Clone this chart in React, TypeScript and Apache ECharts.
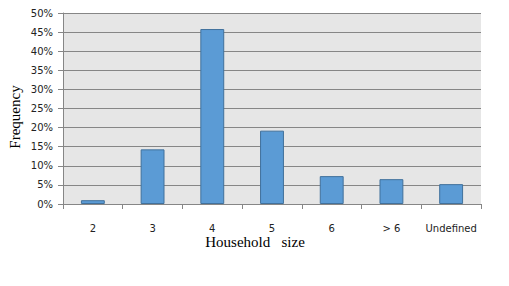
import React, { useEffect, useRef } from "react";
import * as echarts from "echarts";

const categories = ["2", "3", "4", "5", "6", "> 6", "Undefined"];
const frequency = [1.0, 14.3, 45.8, 19.2, 7.3, 6.5, 5.2];
const yTicks = { min: 0, max: 50, interval: 5 };
const xTitle = "Household   size";
const yTitle = "Frequency";

export default function App() {
  const ref = useRef<HTMLDivElement>(null);
  useEffect(() => {
    if (!ref.current) return;
    const chart = echarts.init(ref.current, undefined, { renderer: "svg" });
    const gridLeft = 63, gridRight = 28, gridTop = 13, gridBottom = 82;
    chart.setOption({
      animation: false,
      backgroundColor: "#ffffff",
      grid: {
        left: gridLeft,
        right: gridRight,
        top: gridTop,
        bottom: gridBottom,
        show: true,
        backgroundColor: "#e6e6e6",
        borderWidth: 0,
      },
      xAxis: {
        type: "category",
        data: categories,
        boundaryGap: true,
        axisLine: { show: true, lineStyle: { color: "#868686", width: 1 } },
        axisTick: { show: true, interval: 0, length: 5, lineStyle: { color: "#868686" }, alignWithLabel: false },
        axisLabel: { interval: 0, fontFamily: "DejaVu Sans", fontSize: 10, color: "#222", margin: 19 },
        splitLine: { show: false },
      },
      yAxis: {
        type: "value",
        min: yTicks.min,
        max: yTicks.max,
        interval: yTicks.interval,
        axisLine: { show: true, lineStyle: { color: "#868686", width: 1 } },
        axisTick: { show: true, length: 5, lineStyle: { color: "#868686" } },
        axisLabel: {
          fontFamily: "DejaVu Sans",
          fontSize: 10,
          color: "#222",
          margin: 10,
          formatter: (v: number) => `${v}%`,
        },
        splitLine: { show: true, lineStyle: { color: "#868686", width: 1 } },
      },
      series: [
        {
          type: "bar",
          data: frequency,
          barWidth: "40%",
          itemStyle: { color: "#5b9bd5", borderColor: "#41719c", borderWidth: 1 },
        },
      ],
      graphic: [
        {
          type: "text",
          x: 255,
          y: 242,
          style: {
            text: xTitle,
            font: "15px 'Liberation Serif', 'Times New Roman', serif",
            fill: "#000",
            textAlign: "center",
            textVerticalAlign: "middle",
          },
        },
        {
          type: "text",
          x: 15,
          y: 117,
          rotation: Math.PI / 2,
          style: {
            text: yTitle,
            font: "15px 'Liberation Serif', 'Times New Roman', serif",
            fill: "#000",
            textAlign: "center",
            textVerticalAlign: "middle",
          },
        },
      ],
    });
    return () => chart.dispose();
  }, []);
  return <div ref={ref} style={{ width: 509, height: 286, position: "absolute", left: 0, top: 0 }} />;
}
